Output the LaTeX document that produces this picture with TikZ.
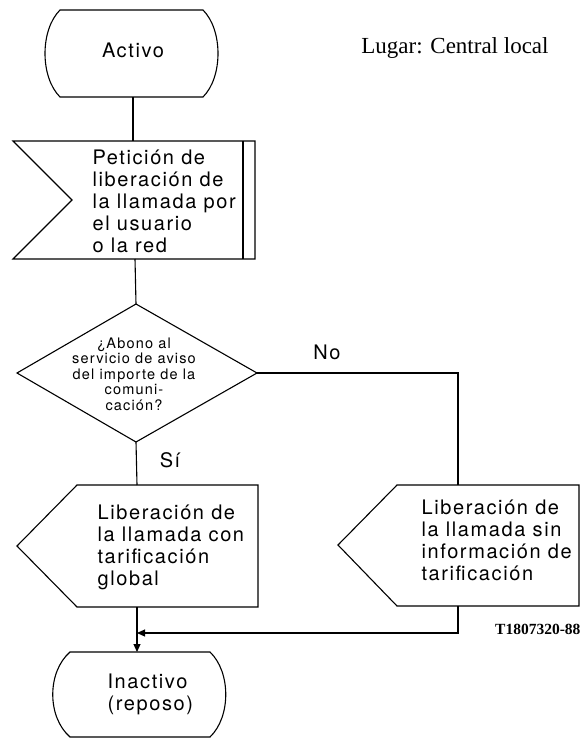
\documentclass[tikz,border=0pt]{standalone}
\usepackage{tikz}
\usepackage{xcolor}
\usepackage{fontspec}
\usetikzlibrary{arrows.meta}
\newfontfamily\boxfont[LetterSpace=8]{TeX Gyre Heros}
\newfontfamily\placefont{Liberation Serif}

\begin{document}
\begin{tikzpicture}[x=1pt,y=-1pt,line width=1.1pt,
    txt/.style={inner sep=0pt,align=left,font=\boxfont\fontsize{20}{22}\selectfont},
    qtxt/.style={inner sep=0pt,align=center,font=\boxfont\fontsize{14.5}{15.5}\selectfont},
    tip/.style={-{Triangle[length=8pt,width=7pt]}}]
    \useasboundingbox (0,0) rectangle (581,738);
    % state Activo
    \coordinate (A0) at (60,10);
    \coordinate (A1) at (203,10);
    \coordinate (A2) at (203,97);
    \coordinate (A3) at (60,97);
    \coordinate (As) at (133,97);
    \draw (A0) -- (A1) .. controls (223,30) and (223,77) .. (A2) -- (A3) .. controls (40,77) and (40,30) .. cycle;
    \node[txt] (activo) at (133,50) {Activo};
    % input signal
    \coordinate (B0) at (13,141);
    \coordinate (B1) at (255,141);
    \coordinate (B2) at (255,259);
    \coordinate (B3) at (13,259);
    \coordinate (B4) at (72,200);
    \coordinate (Bn) at (133,141);
    \coordinate (Bs) at (135,259);
    \draw (B0) -- (B1) -- (B2) -- (B3) -- (B4) -- cycle;
    \draw (243,141) -- (243,259);
    \node[txt,anchor=west] (peticion) at (92,201) {Petición de\\liberación de\\la llamada por\\el usuario\\o la red};
    % decision
    \coordinate (C0) at (136,304);
    \coordinate (C1) at (257,373);
    \coordinate (C2) at (136,442);
    \coordinate (C3) at (17,373);
    \draw (C0) -- (C1) -- (C2) -- (C3) -- cycle;
    \node[qtxt] (abono) at (134,374) {¿Abono al\\servicio de aviso\\del importe de la\\comuni-\\cación?};
    % output with charging
    \coordinate (D0) at (77,485);
    \coordinate (D1) at (258,485);
    \coordinate (D2) at (258,607);
    \coordinate (D3) at (77,607);
    \coordinate (D4) at (17,546);
    \coordinate (Dn) at (137,485);
    \coordinate (Ds) at (137,607);
    \draw (D0) -- (D1) -- (D2) -- (D3) -- (D4) -- cycle;
    \node[txt,anchor=west] (global) at (97,547) {Liberación de\\la llamada con\\tarificación\\global};
    % output without charging
    \coordinate (E0) at (397,485);
    \coordinate (E1) at (579,485);
    \coordinate (E2) at (579,606);
    \coordinate (E3) at (397,606);
    \coordinate (E4) at (338,545);
    \coordinate (En) at (458,485);
    \coordinate (Es) at (458,606);
    \draw (E0) -- (E1) -- (E2) -- (E3) -- (E4) -- cycle;
    \node[txt,anchor=west] (sin) at (421,540) {Liberación de\\la llamada sin\\información de\\tarificación};
    % state Inactivo
    \coordinate (F0) at (70,652);
    \coordinate (F1) at (210,652);
    \coordinate (F2) at (210,737);
    \coordinate (F3) at (70,737);
    \coordinate (Fn) at (137,652);
    \draw (F0) -- (F1) .. controls (231,672) and (231,717) .. (F2) -- (F3) .. controls (47,717) and (47,672) .. cycle;
    \node[txt,anchor=west] (inactivo) at (107,694) {Inactivo\\(reposo)};
    % flow lines
    \draw (As) -- (Bn);
    \draw (Bs) -- (C0);
    \draw (C2) -- (Dn);
    \draw (C1) -- (458,373) -- (En);
    \draw[tip] (Ds) -- (Fn);
    \coordinate (M) at (137,633);
    \draw[tip] (Es) -- (458,633) -- (M);
    \node[txt] (no) at (327,352) {No};
    \node[txt] (si) at (170,460) {Sí};
    % labels
    \node[inner sep=0pt,font=\placefont\fontsize{23}{26}\selectfont] (lugar) at (455,48) {Lugar: Central local};
    \node[inner sep=0pt,anchor=east,font=\placefont\bfseries\fontsize{15.5}{17}\selectfont] (ref) at (581,629) {T1807320-88};
  \end{tikzpicture}
\end{document}
